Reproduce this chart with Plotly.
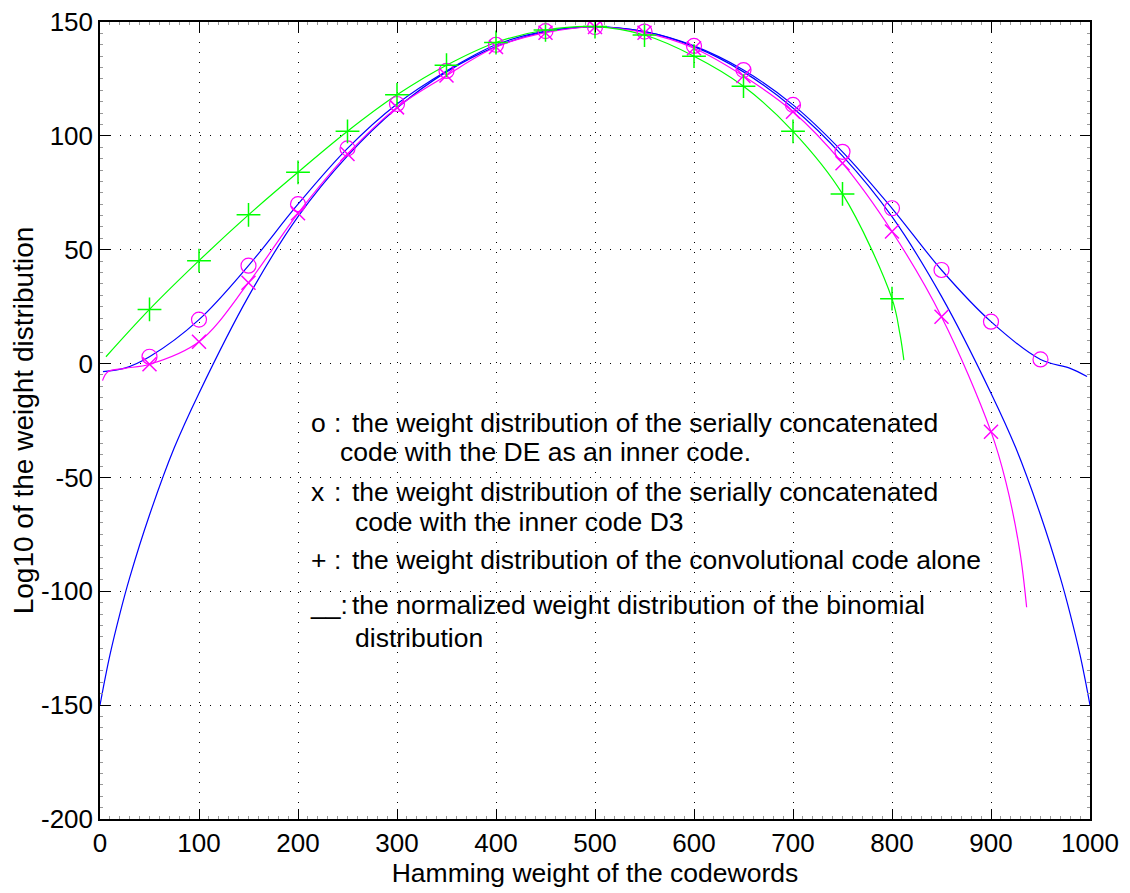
import plotly.graph_objects as go

# ---------------- data ----------------
# Serially concatenated code, DE inner code ("o")
w_o = [50, 100, 150, 200, 250, 300, 350, 400, 450, 500, 550, 600, 650, 700, 750, 800, 850, 900, 950]
a_o = [3.0, 19.3, 43.0, 70.0, 94.5, 114.0, 128.5, 140.0, 146.0, 147.8, 145.8, 139.5, 128.9, 113.6, 93.0, 68.2, 41.1, 18.4, 1.8]
w_o_start, a_o_start = [3, 25], [-3.5, -2.0]
w_o_end, a_o_end = [980, 997], [-2.1, -5.7]

# Serially concatenated code, inner code D3 ("x")
w_x = [50, 100, 150, 200, 250, 300, 350, 400, 450, 500, 550, 600, 650, 700, 750, 800, 850, 900]
a_x = [-0.3, 9.6, 35.5, 66.0, 92.0, 112.5, 126.5, 139.0, 145.3, 147.8, 145.3, 138.5, 126.3, 110.6, 88.0, 58.0, 20.6, -29.9]
w_x_start, a_x_start = [2.5, 8, 25], [-7.5, -3.6, -2.1]
w_x_end, a_x_end = [915, 929, 936], [-52.0, -82.0, -107.0]

# Convolutional code alone ("+")
w_p = [50, 100, 150, 200, 250, 300, 350, 400, 450, 500, 550, 600, 650, 700, 750, 800]
a_p = [23.8, 45.2, 65.3, 84.0, 102.0, 118.0, 131.0, 141.0, 146.5, 148.0, 144.3, 135.0, 121.8, 102.0, 74.5, 28.5]
w_p_start, a_p_start = [6], [3.0]
w_p_end, a_p_end = [808, 812], [13.0, 1.5]

# Normalized binomial distribution (solid line)
w_bin = [0, 5, 10, 20, 30, 50, 75, 100, 150, 200, 250, 300, 350, 400, 450, 500,
         550, 600, 650, 700, 750, 800, 850, 900, 925, 950, 970, 980, 990, 995, 1000]
a_bin = [-150.0, -138.6, -128.0, -110.0, -94.0, -66.5, -37.0, -13.0, 29.5, 64.5, 91.2, 112.2, 128.1, 139.2, 145.8, 147.9,
         145.8, 139.2, 128.1, 112.2, 91.2, 64.5, 29.5, -13.0, -37.0, -66.5, -94.0, -110.0, -128.0, -138.6, -150.0]

x_ticks = [0, 100, 200, 300, 400, 500, 600, 700, 800, 900, 1000]
y_ticks = [-200, -150, -100, -50, 0, 50, 100, 150]

BLUE = "#0000ff"
MAG = "#ff00ff"
GREEN = "#00ff00"
FONT = "Liberation Sans, Arial, Helvetica, sans-serif"
TXT = 26.5

fig = go.Figure()

# lines
fig.add_trace(go.Scatter(x=w_bin, y=a_bin, mode="lines", line=dict(color=BLUE, width=1.2, shape="spline"),
                         hoverinfo="skip"))
fig.add_trace(go.Scatter(x=w_o_start + w_o + w_o_end, y=a_o_start + a_o + a_o_end, mode="lines",
                         line=dict(color=BLUE, width=1.2, shape="spline"), hoverinfo="skip"))
fig.add_trace(go.Scatter(x=w_x_start + w_x + w_x_end, y=a_x_start + a_x + a_x_end, mode="lines",
                         line=dict(color=MAG, width=1.2, shape="spline"), hoverinfo="skip"))
fig.add_trace(go.Scatter(x=w_p_start + w_p + w_p_end, y=a_p_start + a_p + a_p_end, mode="lines",
                         line=dict(color=GREEN, width=1.2, shape="spline"), hoverinfo="skip"))

# markers
fig.add_trace(go.Scatter(x=w_o, y=a_o, mode="markers",
                         marker=dict(symbol="circle-open", size=15, color=MAG, line=dict(width=1.2, color=MAG))))
fig.add_trace(go.Scatter(x=w_x, y=a_x, mode="markers",
                         marker=dict(symbol="x-thin-open", size=14, color=MAG, line=dict(width=1.5, color=MAG))))
fig.add_trace(go.Scatter(x=w_p, y=a_p, mode="markers",
                         marker=dict(symbol="cross-thin-open", size=17, color=GREEN, line=dict(width=1.5, color=GREEN))))

# text block: (prefix, prefix x, body, body x, y)
rows = [
    ("o", 211, "the weight distribution of the serially concatenated", 252.5, -26.1),
    (None, None, "code with the DE as an inner code.", 240.4, -38.8),
    ("x", 211, "the weight distribution of the serially concatenated", 252.5, -56.4),
    (None, None, "code with the inner code D3", 255.6, -69.6),
    ("+", 211, "the weight distribution of the convolutional code alone", 252.5, -86.3),
    ("__:", 210, "the normalized weight distribution of the binomial", 252.5, -106.1),
    (None, None, "distribution", 255.6, -120.5),
]
for pre, px, body, bx, yy in rows:
    if pre is not None:
        fig.add_annotation(x=px, y=yy, text=pre, showarrow=False, xanchor="left", yanchor="middle",
                           font=dict(family=FONT, size=TXT, color="black"))
        if pre != "__:":
            fig.add_annotation(x=239.5, y=yy, text=":", showarrow=False, xanchor="center", yanchor="middle",
                               font=dict(family=FONT, size=TXT, color="black"))
    fig.add_annotation(x=bx, y=yy, text=body, showarrow=False, xanchor="left", yanchor="middle",
                       font=dict(family=FONT, size=TXT, color="black"))

axis_common = dict(
    showline=True, linecolor="black", linewidth=1.5, mirror="ticks",
    ticks="inside", ticklen=10, tickcolor="black", tickwidth=1,
    showgrid=True, gridcolor="black", gridwidth=1, griddash="1px,9px",
    zeroline=False, automargin=False, ticklabeloverflow="allow",
    tickfont=dict(family=FONT, size=26, color="black"),
)

fig.update_xaxes(range=[0, 1000], tickvals=x_ticks, ticktext=[str(v) for v in x_ticks],
                 title=dict(text="Hamming weight of the codewords", font=dict(family=FONT, size=26.5, color="black"),
                            standoff=0),
                 minor=dict(ticks="inside", ticklen=3, tickcolor="#999999", dtick=10, showgrid=False),
                 **axis_common)
fig.update_yaxes(range=[-200, 150], tickvals=y_ticks, ticktext=[str(v) for v in y_ticks],
                 title=dict(text="Log10 of the weight distribution", font=dict(family=FONT, size=28, color="black"),
                            standoff=3),
                 minor=dict(ticks="inside", ticklen=3, tickcolor="#999999", dtick=5, showgrid=False),
                 **axis_common)

# the page body has an 8px margin, so the figure is sized to fit the window exactly
fig.update_layout(
    width=1122, height=885,
    margin=dict(l=92, r=40, t=14, b=74, autoexpand=False),
    paper_bgcolor="white", plot_bgcolor="white",
    showlegend=False,
    font=dict(family=FONT, color="black"),
)

fig.write_html("out.html")
